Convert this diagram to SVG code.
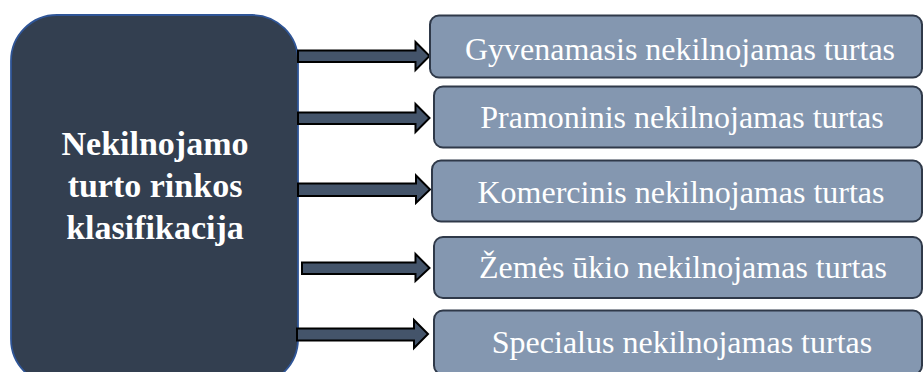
<svg xmlns="http://www.w3.org/2000/svg" width="924" height="372" viewBox="0 0 924 372">
  <style>
    .main { fill: #333f50; stroke: #2f5597; stroke-width: 1.8; }
    .main-t { font-weight: bold; font-size: 34px; fill: #ffffff; text-anchor: middle; }
    .leaf { fill: #8497b0; stroke: #2f3949; stroke-width: 2; }
    .leaf-t { font-size: 32px; fill: #ffffff; text-anchor: middle; }
    .arrow { fill: #44546a; stroke: #000000; stroke-width: 2; stroke-linejoin: miter; }
  </style>
  <rect width="924" height="372" fill="#ffffff"/>
  <g id="main">
    <rect class="main" x="11" y="15" width="287" height="370" rx="46" ry="46"/>
    <g font-family="Liberation Serif, DejaVu Serif, serif">
      <text class="main-t" x="155" y="155">Nekilnojamo</text>
      <text class="main-t" x="155" y="197">turto rinkos</text>
      <text class="main-t" x="155" y="239">klasifikacija</text>
    </g>
  </g>
  <g id="connectors">
    <path class="arrow" d="M298,50.5 H415.5 V42 L429.5,56 L415.5,70 V62 H298 Z"/>
    <path class="arrow" d="M298,112.5 H415.5 V104 L429.5,118 L415.5,132 V124 H298 Z"/>
    <path class="arrow" d="M298,183.5 H416 V175.5 L430,189.5 L416,203 V196 H298 Z"/>
    <path class="arrow" d="M302,262.5 H415.5 V254 L429.5,268 L415.5,281 V274 H302 Z"/>
    <path class="arrow" d="M297,328.5 H414 V320 L428,334 L414,348 V340.5 H297 Z"/>
  </g>
  <g id="n1" font-family="Liberation Serif, DejaVu Serif, serif">
    <rect class="leaf" x="430" y="15.5" width="492" height="62" rx="9" ry="9"/>
    <text class="leaf-t" x="680" y="60">Gyvenamasis nekilnojamas turtas</text>
  </g>
  <g id="n2" font-family="Liberation Serif, DejaVu Serif, serif">
    <rect class="leaf" x="434" y="86.5" width="488" height="61" rx="9" ry="9"/>
    <text class="leaf-t" x="682" y="128">Pramoninis nekilnojamas turtas</text>
  </g>
  <g id="n3" font-family="Liberation Serif, DejaVu Serif, serif">
    <rect class="leaf" x="432" y="160.5" width="490" height="61" rx="9" ry="9"/>
    <text class="leaf-t" x="681" y="203">Komercinis nekilnojamas turtas</text>
  </g>
  <g id="n4" font-family="Liberation Serif, DejaVu Serif, serif">
    <rect class="leaf" x="434" y="237" width="488" height="61" rx="9" ry="9"/>
    <text class="leaf-t" x="683" y="278">Žemės ūkio nekilnojamas turtas</text>
  </g>
  <g id="n5" font-family="Liberation Serif, DejaVu Serif, serif">
    <rect class="leaf" x="434" y="310.5" width="488" height="64" rx="9" ry="9"/>
    <text class="leaf-t" x="682" y="353">Specialus nekilnojamas turtas</text>
  </g>
</svg>
